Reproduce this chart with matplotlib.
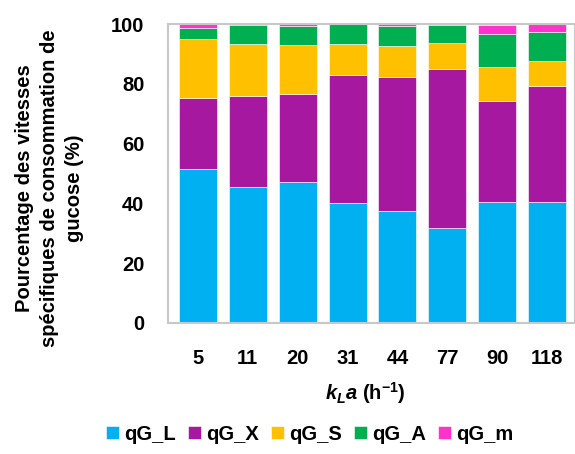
import numpy as np
import matplotlib
matplotlib.use("Agg")
import matplotlib.pyplot as plt

# data (percent of total)
kla = ["5", "11", "20", "31", "44", "77", "90", "118"]
qG_L = [51.5, 45.4, 47.2, 40.0, 37.6, 31.9, 40.4, 40.4]
qG_X = [23.8, 30.5, 29.4, 43.0, 44.8, 53.2, 33.8, 38.9]
qG_S = [19.6, 17.3, 16.3, 10.2, 10.3, 8.4, 11.5, 8.4]
qG_A = [3.8, 6.6, 6.4, 6.8, 6.6, 6.1, 10.8, 9.5]
qG_m = [1.3, 0.2, 0.7, 0.0, 0.7, 0.4, 3.0, 2.8]

series = [("qG_L", qG_L, "#00B0F0"),
          ("qG_X", qG_X, "#A718A0"),
          ("qG_S", qG_S, "#FFC000"),
          ("qG_A", qG_A, "#00B050"),
          ("qG_m", qG_m, "#FF33CC")]

FONT = "Liberation Sans"
FS = 14.5
plt.rcParams["font.family"] = [FONT, "DejaVu Sans"]
plt.rcParams["font.weight"] = "bold"
plt.rcParams["mathtext.fontset"] = "custom"
plt.rcParams["mathtext.rm"] = FONT + ":bold"
plt.rcParams["mathtext.it"] = FONT + ":italic:bold"
plt.rcParams["mathtext.bf"] = FONT + ":bold"

fig = plt.figure(figsize=(5.75, 4.54), dpi=100)
ax = fig.add_axes([168 / 575, 1 - 323 / 454, (575 - 168) / 575, (323 - 24) / 454])

x = np.arange(len(kla))
bottom = np.zeros(len(kla))
for name, vals, col in series:
    ax.bar(x, vals, bottom=bottom, width=0.76, color=col, label=name,
           edgecolor="#ffffff", linewidth=0.4, zorder=2)
    bottom += np.array(vals)

ax.set_ylim(0, 100)
ax.set_xlim(-0.6, len(kla) - 0.44)
ax.set_yticks([0, 20, 40, 60, 80, 100])
ax.set_xticks(x)
ax.set_xticklabels(kla)
ax.tick_params(axis="both", length=0, labelsize=FS)
ax.tick_params(axis="y", pad=17)
ax.tick_params(axis="x", pad=19)
for s in ax.spines.values():
    s.set_color("#C8C8C8")
    s.set_linewidth(1.5)

fig.text(50 / 575, 1 - 188 / 454,
         "Pourcentage des vitesses\nspécifiques de consommation de\ngucose (%)",
         rotation=90, ha="center", va="center", fontsize=FS, fontweight="bold",
         linespacing=1.4)

fig.text(365 / 575, 1 - 393 / 454, r"$k_L a$ (h$^{\mathrm{-1}}$)",
         ha="center", va="center", fontsize=FS, fontweight="bold")

fig.legend(loc="center", bbox_to_anchor=(310 / 575, 1 - 434 / 454), ncol=5,
           frameon=False, fontsize=FS, handlelength=0.65, handleheight=0.65,
           handletextpad=0.25, columnspacing=0.6)

fig.savefig("out.png", dpi=100)
